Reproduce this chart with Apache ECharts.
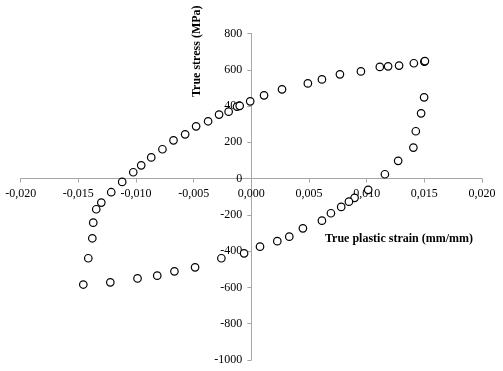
<!DOCTYPE html>
<html>
<head>
<meta charset="utf-8">
<script src="https://cdn.jsdelivr.net/npm/echarts@6/dist/echarts.min.js"></script>
<style>html,body{margin:0;padding:0;background:#fff}#c{width:503px;height:371px}</style>
</head>
<body>
<div id="c"></div>
<script>
// True plastic strain (mm/mm)
var strain = [0.01500,0.01505,0.01498,0.01472,0.01426,0.01405,0.01273,0.01158,0.01013,0.00895,0.00846,0.00779,0.00690,0.00612,0.00447,0.00329,0.00225,0.00075,-0.00063,-0.00260,-0.00488,-0.00667,-0.00816,-0.00987,-0.01223,-0.01457,-0.01414,-0.01379,-0.01371,-0.01345,-0.01301,-0.01215,-0.01120,-0.01024,-0.00955,-0.00868,-0.00771,-0.00675,-0.00574,-0.00479,-0.00375,-0.00280,-0.00197,-0.00124,-0.00101,-0.00010,0.00110,0.00266,0.00490,0.00612,0.00768,0.00950,0.01114,0.01186,0.01281,0.01409];
// True stress (MPa)
var stress = [645,648,448,360,261,171,98,24,-62,-106,-127,-156,-191,-232,-274,-320,-345,-375,-412,-439,-489,-511,-535,-550,-572,-584,-439,-329,-243,-169,-132,-75,-18,35,73,117,162,211,244,288,316,353,369,397,401,426,459,492,525,547,575,591,616,619,623,636];
var xTitle = 'True plastic strain (mm/mm)';
var yTitle = 'True stress (MPa)';

var W = 503, H = 371;
var G = { left: 20.7, right: 21, top: 33.5, bottom: 11 };
var xMin = -0.02, xMax = 0.02, yMin = -1000, yMax = 800;
var gw = W - G.left - G.right, gh = H - G.top - G.bottom;
// distance from grid edge to the zero line, so axes (with labels) sit on the origin
var xOff = -(gh * (0 - yMin) / (yMax - yMin));
var yOff = -(gw * (0 - xMin) / (xMax - xMin));

var pts = strain.map(function (v, i) { return [v, stress[i]]; });
var font = '"Liberation Serif","Times New Roman",serif';
var chart = echarts.init(document.getElementById('c'));
chart.setOption({
  animation: false,
  backgroundColor: '#fff',
  grid: { left: G.left, right: G.right, top: G.top, bottom: G.bottom, containLabel: false, outerBoundsMode: 'none' },
  xAxis: {
    type: 'value', min: xMin, max: xMax, interval: 0.005, position: 'bottom', offset: xOff,
    axisLine: { onZero: false, lineStyle: { color: '#a6a6a6', width: 1 } },
    axisTick: { show: true, length: 4, lineStyle: { color: '#a6a6a6' } },
    splitLine: { show: false },
    axisLabel: {
      margin: 9, color: '#000', fontFamily: font, fontSize: 12,
      formatter: function (v) {
        var s = Math.abs(v) < 1e-9 ? '0.000' : v.toFixed(3);
        return s.replace('.', ',');
      }
    }
  },
  yAxis: {
    type: 'value', min: yMin, max: yMax, interval: 200, position: 'left', offset: yOff,
    axisLine: { show: true, onZero: false, lineStyle: { color: '#a6a6a6', width: 1 } },
    axisTick: { show: true, length: 4, lineStyle: { color: '#a6a6a6' } },
    splitLine: { show: false },
    axisLabel: { margin: 9, color: '#000', fontFamily: font, fontSize: 12,
      formatter: function (v) { return String(Math.round(v)); } }
  },
  graphic: [
    { type: 'text', left: 325, top: 233, style: { text: xTitle, fill: '#000', font: 'bold 12px ' + font } },
    { type: 'text', x: 197, y: 97, rotation: Math.PI / 2,
      style: { text: yTitle, fill: '#000', font: 'bold 12px ' + font, textAlign: 'left', textVerticalAlign: 'middle' } }
  ],
  series: [{
    type: 'scatter', data: pts, symbol: 'circle', symbolSize: 7.5,
    itemStyle: { color: '#fff', borderColor: '#000', borderWidth: 1.2, opacity: 1 }
  }]
});
</script>
</body>
</html>
